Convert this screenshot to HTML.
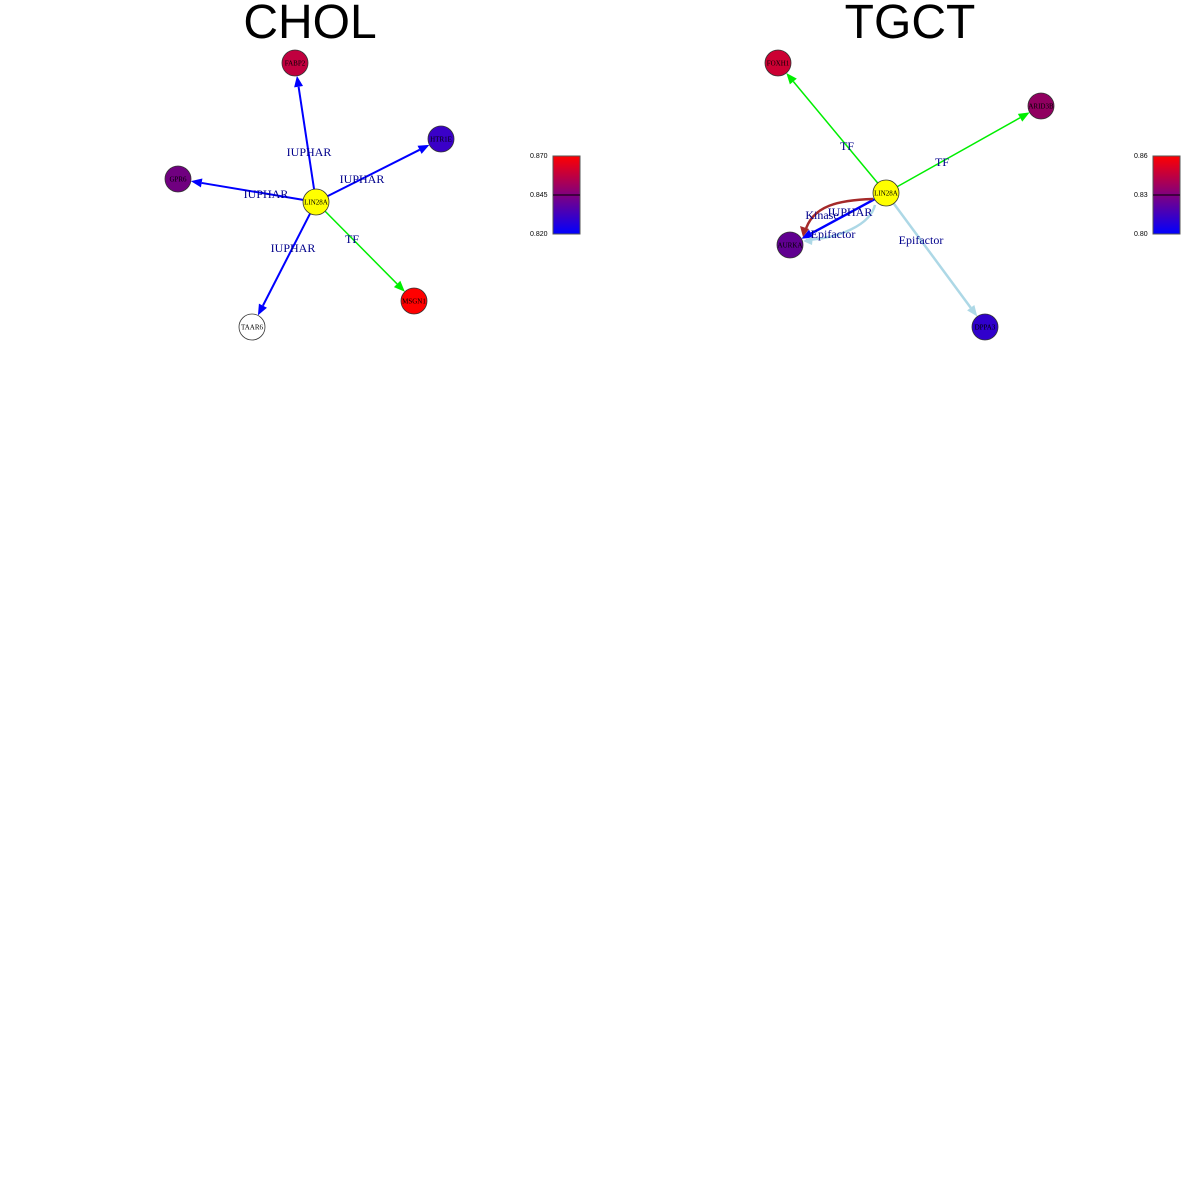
<!DOCTYPE html>
<html><head><meta charset="utf-8"><style>
html,body{margin:0;padding:0;background:#fff;width:1200px;height:1200px;overflow:hidden}
svg text{font-family:"Liberation Serif",serif}
</style></head><body>
<svg id="s" width="1200" height="1200" xmlns="http://www.w3.org/2000/svg">
<defs>
<linearGradient id="g" x1="0" y1="1" x2="0" y2="0">
<stop offset="0" stop-color="#0000ff"/><stop offset="0.5" stop-color="#800080"/><stop offset="1" stop-color="#ff0000"/>
</linearGradient>
</defs>
<text x="310" y="38" font-size="48" text-anchor="middle" style="font-family:'Liberation Sans',sans-serif">CHOL</text>
<text x="910" y="38" font-size="48" text-anchor="middle" style="font-family:'Liberation Sans',sans-serif">TGCT</text>
<g id="edges"></g>
<g id="nodes"></g>
<g id="labels" fill="#00008b" font-size="12"></g>
<!-- colorbars -->
<rect x="553" y="156" width="27" height="78" fill="url(#g)" stroke="#555" stroke-width="1"/>
<line x1="553" y1="195" x2="580" y2="195" stroke="#000" stroke-width="1"/>
<g font-size="7" style="font-family:'Liberation Sans',sans-serif">
<text x="530" y="158" style="font-family:'Liberation Sans',sans-serif">0.870</text>
<text x="530" y="197" style="font-family:'Liberation Sans',sans-serif">0.845</text>
<text x="530" y="236" style="font-family:'Liberation Sans',sans-serif">0.820</text>
</g>
<rect x="1153" y="156" width="27" height="78" fill="url(#g)" stroke="#555" stroke-width="1"/>
<line x1="1153" y1="195" x2="1180" y2="195" stroke="#000" stroke-width="1"/>
<g font-size="7">
<text x="1134" y="158" style="font-family:'Liberation Sans',sans-serif">0.86</text>
<text x="1134" y="197" style="font-family:'Liberation Sans',sans-serif">0.83</text>
<text x="1134" y="236" style="font-family:'Liberation Sans',sans-serif">0.80</text>
</g>
</svg>
<script>
var NS="http://www.w3.org/2000/svg";
function el(p,t,a,txt){var e=document.createElementNS(NS,t);for(var k in a)e.setAttribute(k,a[k]);if(txt)e.textContent=txt;document.getElementById(p).appendChild(e);return e;}
var R=13;
var nodes=[
["LIN28A",316,202,"#ffff00"],["FABP2",295,63,"#c0003f"],["HTR1E",441,139,"#3a00c8"],["GPR6",178,179,"#700080"],["TAAR6",252,327,"#ffffff"],["MSGN1",414,301,"#ff0000"],
["LIN28A",886,193,"#ffff00"],["FOXH1",778,63,"#cc0033"],["ARID3B",1041,106,"#900060"],["AURKA",790,245,"#600090"],["DPPA3",985,327,"#3000cc"]];
function arrow(x1,y1,x2,y2,col,w){
 var dx=x2-x1,dy=y2-y1,L=Math.hypot(dx,dy),ux=dx/L,uy=dy/L;
 var sx=x1+ux*R,sy=y1+uy*R,tx=x2-ux*R,ty=y2-uy*R;
 var bx=tx-ux*11,by=ty-uy*11,px=-uy*4.5,py=ux*4.5;
 el("edges","line",{x1:sx,y1:sy,x2:bx,y2:by,stroke:col,"stroke-width":w});
 el("edges","polygon",{points:tx+","+ty+" "+(bx+px)+","+(by+py)+" "+(bx-px)+","+(by-py),fill:col});
}
var B="#0000ff",G="#00ee00";
arrow(316,202,295,63,B,2);arrow(316,202,441,139,B,2);arrow(316,202,178,179,B,2);arrow(316,202,252,327,B,2);arrow(316,202,414,301,G,1.5);
arrow(886,193,778,63,G,1.5);arrow(886,193,1041,106,G,1.5);arrow(886,193,985,327,"#add8e6",2.5);arrow(886,193,790,245,B,2.5);
// curved edges to AURKA
el("edges","path",{d:"M873,199 C840,200 812,205 805,232",fill:"none",stroke:"#a52a2a","stroke-width":2.5});
el("edges","polygon",{points:"803,237 800,226 809,229",fill:"#a52a2a"});
el("edges","path",{d:"M875,205 C870,225 840,238 806,240",fill:"none",stroke:"#add8e6","stroke-width":2.5});
el("edges","polygon",{points:"803,241 813,236 812,245",fill:"#add8e6"});
nodes.forEach(function(n){
 el("nodes","circle",{cx:n[1],cy:n[2],r:R,fill:n[3],stroke:"#333","stroke-width":0.8});
 el("nodes","text",{x:n[1],y:n[2]+2.5,"font-size":7,"text-anchor":"middle",fill:"#000"},n[0]);
});
var labs=[["IUPHAR",309,156],["IUPHAR",362,183],["IUPHAR",266,198],["IUPHAR",293,252],["TF",352,243],
["TF",847,150],["TF",942,166],["Kinase",822,219],["IUPHAR",850,216],["Epifactor",833,238],["Epifactor",921,244]];
labs.forEach(function(l){el("labels","text",{x:l[1],y:l[2],"text-anchor":"middle"},l[0]);});
</script>
</body></html>
